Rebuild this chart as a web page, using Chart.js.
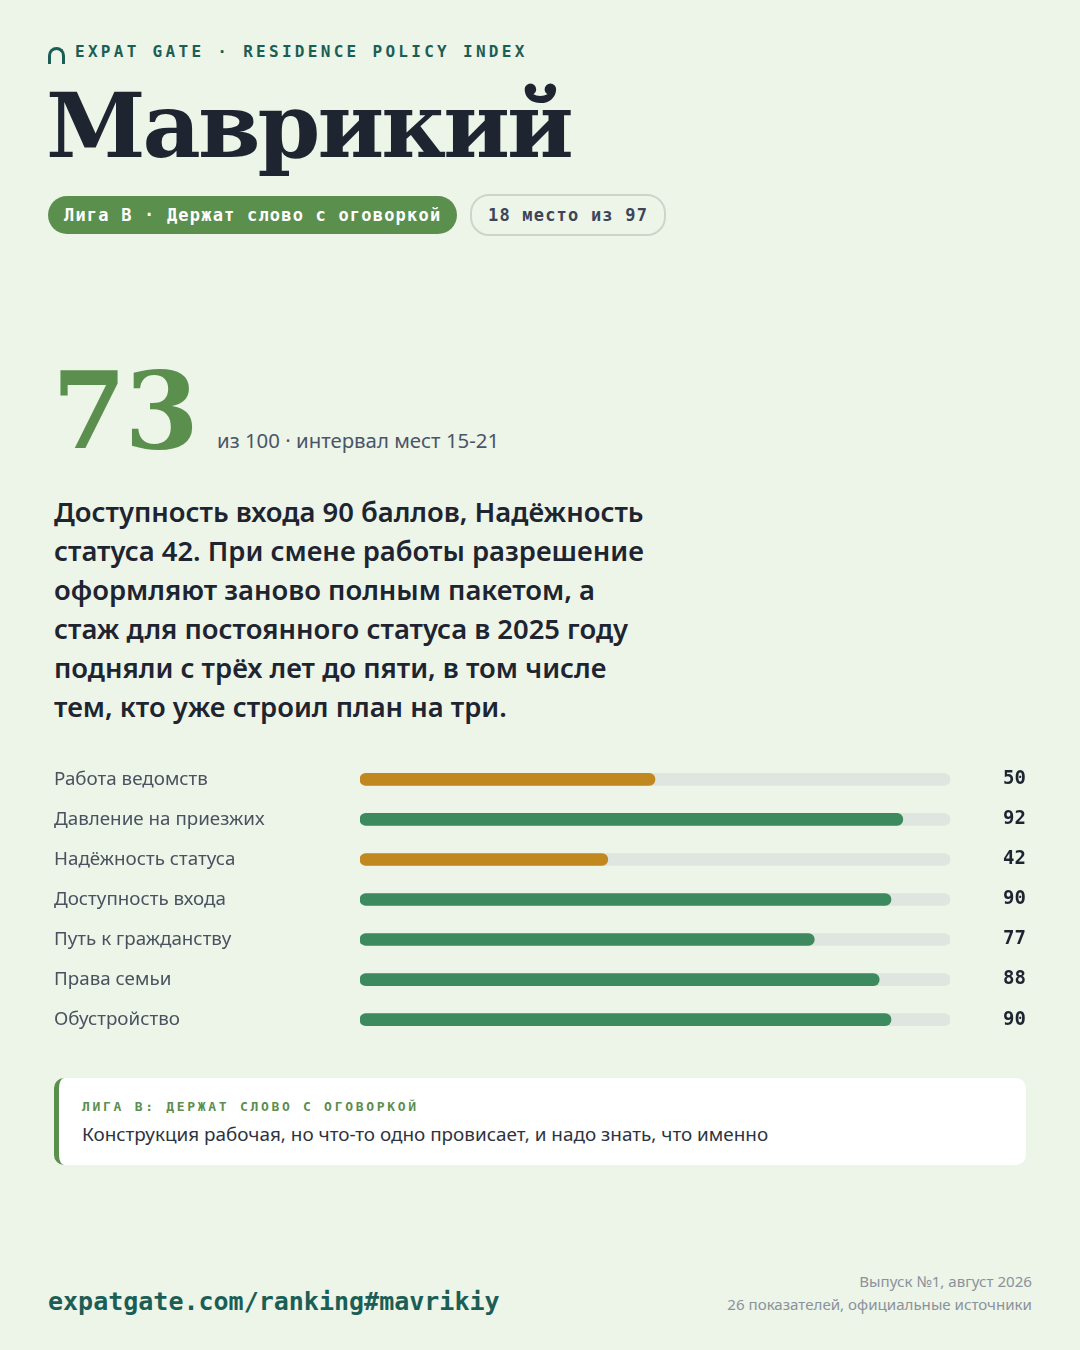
<!DOCTYPE html>
<html lang="ru">
<head>
<meta charset="utf-8">
<script src="https://cdn.jsdelivr.net/npm/chart.js@4.4.1/dist/chart.umd.min.js"></script>
<style>
  html, body { margin: 0; padding: 0; }
  body {
    width: 1080px; height: 1350px; position: relative; overflow: hidden;
    background: #edf4e8; font-family: "Noto Sans", sans-serif; color: #1e2430;
  }
  .abs { position: absolute; }
  .mono { font-family: "DejaVu Sans Mono", monospace; font-weight: bold; }
  .kicker { left: 75px; top: 42px; font-size: 16px; letter-spacing: 3.3px; color: #1b5e55; }
  .arch {
    left: 48px; top: 47px; width: 11px; height: 14px;
    border: 3px solid #1b5e55; border-bottom: none; border-radius: 9px 9px 0 0;
  }
  h1 {
    margin: 0; left: 46px; top: 70px; font-family: "DejaVu Serif", serif; font-weight: bold;
    font-size: 90px; line-height: 110px; letter-spacing: -3px; color: #1e2430;
  }
  .pill {
    top: 196px; height: 38px; line-height: 38px; border-radius: 19px; font-size: 17px;
    letter-spacing: 1.2px; padding: 0 16px;
  }
  .pill.league { left: 48px; background: #5b8f4e; color: #fff; }
  .pill.rank {
    left: 470px; top: 194px; height: 38px; border: 2px solid #cdd5ca; color: #3d4658; background: transparent;
  }
  .score {
    left: 52px; top: 346px; font-family: "DejaVu Serif", serif; font-weight: bold;
    font-size: 107px; line-height: 130px; color: #5b8f4e; letter-spacing: -2px;
  }
  .scoreNote { left: 217px; top: 426px; font-size: 20.4px; color: #4a5568; }
  .lead {
    left: 54px; top: 492px; width: 660px; font-size: 27.4px; line-height: 39px; font-weight: 600; color: #1e2430;
  }
  #chartBox { left: 54px; top: 748px; width: 972px; height: 303px; }
  .callout {
    left: 54px; top: 1078px; width: 967px; height: 87px; background: #fff;
    border-left: 5px solid #5b8f4e; border-radius: 10px;
  }
  .callout .head { position: absolute; left: 23px; top: 21px; font-size: 13px; letter-spacing: 2.7px; color: #5b8f4e; }
  .callout .text { position: absolute; left: 23px; top: 43px; font-size: 18.9px; color: #2d3440; }
  .url { left: 48px; top: 1287px; font-size: 25px; color: #1b5e55; }
  .meta { right: 48px; top: 1270px; text-align: right; font-size: 15.1px; line-height: 23px; color: #8a929c; }
</style>
</head>
<body>
<div class="abs arch"></div>
<div class="abs mono kicker">EXPAT GATE · RESIDENCE POLICY INDEX</div>
<h1 class="abs">Маврикий</h1>
<div class="abs mono pill league">Лига B · Держат слово с оговоркой</div>
<div class="abs mono pill rank">18 место из 97</div>

<div class="abs score">73</div>
<div class="abs scoreNote">из 100 · интервал мест 15-21</div>

<div class="abs lead">Доступность входа 90 баллов, Надёжность<br>статуса 42. При смене работы разрешение<br>оформляют заново полным пакетом, а<br>стаж для постоянного статуса в 2025 году<br>подняли с трёх лет до пяти, в том числе<br>тем, кто уже строил план на три.</div>

<div class="abs" id="chartBox"><canvas id="scoreChart"></canvas></div>

<div class="abs callout">
  <div class="mono head">ЛИГА B: ДЕРЖАТ СЛОВО С ОГОВОРКОЙ</div>
  <div class="text">Конструкция рабочая, но что-то одно провисает, и надо знать, что именно</div>
</div>

<div class="abs mono url">expatgate.com/ranking#mavrikiy</div>
<div class="abs meta">Выпуск №1, август 2026<br>26 показателей, официальные источники</div>

<script>
const categories = ['Работа ведомств', 'Давление на приезжих', 'Надёжность статуса', 'Доступность входа', 'Путь к гражданству', 'Права семьи', 'Обустройство'];
const scores = [50, 92, 42, 90, 77, 88, 90];
const maxScore = 100;

const GREEN = '#3d8a5e';
const GOLD = '#c0881e';
const TRACK = '#dfe5df';

const barColors = scores.map(v => v < 60 ? GOLD : GREEN);

new Chart(document.getElementById('scoreChart'), {
    type: 'bar',
    data: {
        labels: categories,
        datasets: [
            {
                label: 'Балл',
                data: scores,
                backgroundColor: barColors,
                barThickness: 12,
                borderRadius: 6,
                borderSkipped: false,
                grouped: false,
                order: 1
            },
            {
                label: 'Шкала',
                data: scores.map(() => maxScore),
                backgroundColor: TRACK,
                barThickness: 12,
                borderRadius: 6,
                borderSkipped: false,
                grouped: false,
                order: 2
            }
        ]
    },
    options: {
        indexAxis: 'y',
        responsive: true,
        maintainAspectRatio: false,
        animation: false,
        layout: { padding: 0 },
        scales: {
            x: {
                min: 0,
                max: maxScore,
                display: false
            },
            y: {
                position: 'left',
                grid: { display: false },
                border: { display: false },
                ticks: {
                    crossAlign: 'far',
                    padding: 0,
                    color: '#4a5260',
                    font: { family: 'Noto Sans', size: 18.8 }
                },
                afterFit: scale => { scale.width = 306; }
            },
            y2: {
                type: 'category',
                position: 'right',
                labels: scores.map(String),
                grid: { display: false },
                border: { display: false },
                ticks: {
                    crossAlign: 'far',
                    padding: 0,
                    color: '#1e2430',
                    font: { family: 'DejaVu Sans Mono', size: 19, weight: 'bold' }
                },
                afterFit: scale => { scale.width = 76; }
            }
        },
        plugins: {
            legend: { display: false },
            tooltip: { enabled: false }
        }
    }
});
</script>
</body>
</html>
